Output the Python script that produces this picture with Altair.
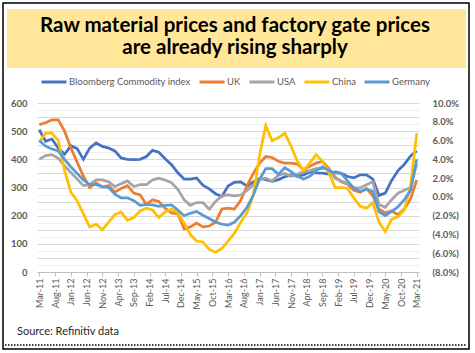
import altair as alt
import pandas as pd

# ---- data (every 2 months from Mar-11 to Mar-21) ----
start_month = "2011-03-01"
n_points = 61
series_names = ["Bloomberg Commodity index", "UK", "USA", "China", "Germany"]
colors = ["#4472C4", "#ED7D31", "#A5A5A5", "#FFC000", "#5B9BD5"]

bloomberg = [505, 464, 472, 440, 418, 448, 438, 400, 440, 458,
             446, 440, 430, 405, 400, 399, 400, 410, 432, 425,
             402, 381, 352, 330, 330, 334, 308, 295, 278, 268,
             305, 318, 320, 305, 320, 332, 328, 322, 328, 338,
             345, 340, 345, 355, 352, 351, 348, 355, 350, 339,
             334, 345, 345, 330, 272, 280, 325, 360, 382, 412,
             430]
uk = [7.7, 7.9, 8.2, 8.2, 7.0, 5.2, 3.7, 2.2, 1.0, 1.5,
      1.05, 1.2, 0.5, 0.9, 1.2, 0.4, 0.2, -0.8, -0.3, -0.5,
      -1.2, -1.7, -1.8, -3.4, -3.2, -2.8, -3.2, -3.1, -2.7, -1.3,
      -1.2, -1.3, -0.4, 1.2, 2.5, 3.6, 4.3, 4.2, 3.8, 3.6,
      3.6, 3.5, 2.9, 3.25, 3.6, 3.8, 3.0, 2.1, 1.6, 1.35,
      0.7, 0.5, 0.9, 0.1, -1.3, -1.7, -1.5, -1.9, -1.3, -0.2,
      1.8]
usa = [4.0, 4.4, 4.5, 4.1, 3.3, 2.6, 1.9, 1.2, 1.3, 1.8,
       1.8, 1.6, 1.1, 1.4, 1.7, 1.1, 1.3, 1.3, 1.8, 2.0,
       1.8, 1.5, 0.8, -0.3, -0.9, -0.6, -0.6, -1.3, -0.5, 0.1,
       0.2, 0.1, 0.2, 0.7, 1.3, 1.9, 2.0, 1.7, 2.3, 2.5,
       2.2, 2.4, 2.7, 2.8, 3.0, 3.0, 3.0, 2.0, 1.7, 1.4,
       1.0, 0.95, 1.3, 1.6, -0.8, -1.1, -0.3, 0.4, 0.7, 1.0,
       3.5]
china = [5.8, 6.8, 6.8, 6.0, 2.8, 0.5, -0.4, -1.8, -3.2, -2.9,
         -3.5, -2.7, -1.9, -1.6, -2.5, -2.2, -1.5, -1.2, -1.4, -2.2,
         -1.6, -1.3, -1.7, -2.8, -4.0, -4.7, -4.8, -5.6, -5.9, -5.5,
         -4.7, -3.9, -2.7, -1.7, 0.2, 4.5, 7.6, 6.0, 6.3, 6.8,
         5.4, 3.8, 2.8, 3.6, 4.5, 3.8, 2.6, 1.0, 1.0, 0.9,
         -0.1, -1.0, -1.2, -0.6, -2.7, -3.7, -2.4, -2.1, -1.4, 1.2,
         6.8]
germany = [6.0, 5.4, 5.1, 4.9, 4.0, 3.2, 2.5, 1.8, 1.3, 1.3,
           1.1, 1.0, 0.3, -0.1, -0.1, -0.4, -0.9, -0.8, -0.85, -1.0,
           -0.9, -0.85, -1.4, -2.0, -1.75, -1.55, -1.95, -2.3, -2.7, -2.9,
           -3.0, -2.7, -2.0, -1.1, 0.2, 1.9, 3.0, 3.0, 2.4, 3.1,
           2.7, 2.2, 1.9, 2.2, 2.8, 3.2, 2.8, 2.55, 2.5, 1.7,
           0.9, 0.6, 0.8, 0.6, -1.6, -2.0, -1.55, -1.05, -0.3, 0.7,
           4.0]

title_lines = ["Raw material prices and factory gate prices",
               "are already rising sharply"]
source_text = ["Source: Refinitiv data"]
left_ticks = list(range(0, 601, 100))
right_ticks = list(range(-8, 11, 2))

# ---- tables ----
dates = [d.strftime("%Y-%m-%d") for d in pd.date_range(start_month, periods=n_points, freq="2MS")]
bb_df = pd.DataFrame({"date": dates, "value": bloomberg, "series": series_names[0]})
ppi_df = pd.concat([
    pd.DataFrame({"date": dates, "value": v, "series": n})
    for n, v in zip(series_names[1:], [uk, usa, china, germany])
])
tick_dates = pd.date_range("2011-03-01", "2021-03-01", freq="5MS")
tick_vals = [alt.DateTime(year=d.year, month=d.month, date=1, utc=True) for d in tick_dates]

FONT = "Lato"
W, H = 382, 169
PL, PT = 37, 103

xenc = alt.X(
    "date:T",
    scale=alt.Scale(type="utc", domain=[alt.DateTime(year=2011, month=2, date=7, utc=True),
                                         alt.DateTime(year=2021, month=3, date=23, utc=True)]),
    axis=alt.Axis(values=tick_vals, title=None,
                  labelExpr="utcFormat(datum.value, '%b-%y')",
                  labelAngle=270, labelAlign="right", labelBaseline="middle",
                  labelFont=FONT, labelFontSize=9, labelColor="#595959", labelPadding=2,
                  domainColor="#bfbfbf", tickColor="#bfbfbf", tickSize=4, grid=False,
                  labelOverlap=False),
)

legend = alt.Legend(title=None, orient="none", legendX=3, legendY=-35, direction="horizontal",
                    symbolType="stroke", symbolStrokeWidth=3, symbolSize=625,
                    labelFont=FONT, labelFontSize=9.5, labelColor="#595959",
                    columnPadding=2, labelOffset=1)
cenc = alt.Color("series:N", scale=alt.Scale(domain=series_names, range=colors), legend=legend)

grid_vals = list(range(0, 601, 25))
bb_line = alt.Chart(bb_df).mark_line(strokeWidth=2.75).encode(
    x=xenc,
    y=alt.Y("value:Q", scale=alt.Scale(domain=[0, 600], nice=False, zero=False),
            axis=alt.Axis(orient="left", values=grid_vals, title=None,
                          labelExpr="datum.value % 100 == 0 ? datum.label : ''",
                          labelFont=FONT, labelFontSize=9.5, labelFontWeight="bold",
                          labelColor="#595959", labelPadding=10, domain=False, ticks=False,
                          gridColor=alt.condition("datum.value % 50 == 0", alt.value("#d9d9d9"), alt.value("#efefef")))),
    color=cenc,
)

ppi_lines = alt.Chart(ppi_df).mark_line(strokeWidth=2.75).encode(
    x=xenc,
    y=alt.Y("value:Q", scale=alt.Scale(domain=[-8, 10], nice=False, zero=False),
            axis=alt.Axis(orient="right", values=right_ticks, title=None, grid=False,
                          labelExpr="datum.value < 0 ? '(' + format(-datum.value, '.1f') + '%)' : format(datum.value, '.1f') + '%'",
                          labelFont=FONT, labelFontSize=9.5, labelFontWeight="bold",
                          labelColor="#595959", labelPadding=13, domain=False, ticks=False)),
    color=cenc,
)

# ---- decorations ----
one = pd.DataFrame({"a": [0]})
title_box = alt.Chart(one).mark_rect(color="#FFE699").encode(
    x=alt.value(7 - PL), x2=alt.value(466 - PL), y=alt.value(9 - PT), y2=alt.value(68 - PT))
frame = alt.Chart(one).mark_rect(fillOpacity=0, stroke="#000000", strokeWidth=1.5).encode(
    x=alt.value(3 - PL), x2=alt.value(469 - PL), y=alt.value(3 - PT), y2=alt.value(349 - PT))
t1 = alt.Chart(pd.DataFrame({"t": [title_lines[0]]})).mark_text(
    font=FONT, fontSize=20.5, fontWeight="bold", color="#000000", baseline="alphabetic", align="center").encode(
    x=alt.value(235 - PL), y=alt.value(32 - PT), text="t:N")
t2 = alt.Chart(pd.DataFrame({"t": [title_lines[1]]})).mark_text(
    font=FONT, fontSize=20.5, fontWeight="bold", color="#000000", baseline="alphabetic", align="center").encode(
    x=alt.value(235 - PL), y=alt.value(54 - PT), text="t:N")
src = alt.Chart(pd.DataFrame({"t": source_text})).mark_text(
    font=FONT, fontSize=11, color="#262626", baseline="middle", align="left").encode(
    x=alt.value(17 - PL), y=alt.value(332 - PT), text="t:N")
dots = alt.Chart(one).mark_rule(stroke="#000000", strokeWidth=1.5, strokeDash=[1.5, 1.5]).encode(
    x=alt.value(5 - PL), x2=alt.value(467 - PL), y=alt.value(345 - PT))

chart = alt.layer(title_box, frame, t1, t2, bb_line, ppi_lines, src, dots).resolve_scale(
    y="independent"
).properties(
    width=W, height=H,
    autosize=alt.AutoSizeParams(type="none"),
    padding={"left": PL, "top": PT, "right": 475 - PL - W, "bottom": 353 - PT - H},
    background="#ffffff",
).configure_view(stroke=None)

chart.save("out.html", embed_options={"renderer": "svg", "actions": False})
